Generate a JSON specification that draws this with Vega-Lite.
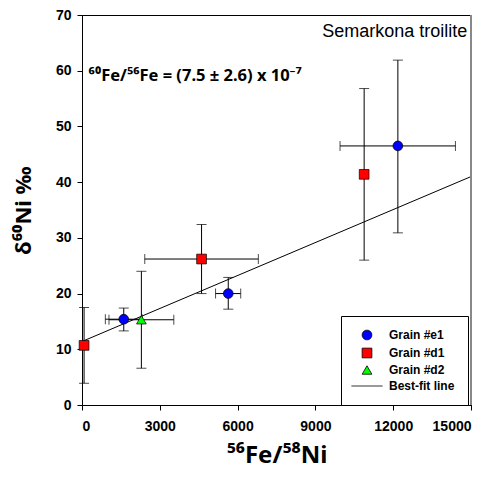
{
  "$schema": "https://vega.github.io/schema/vega-lite/v6.json",
  "width": 389,
  "height": 390,
  "autosize": {"type": "none"},
  "padding": {"left": 82, "top": 15, "right": 21, "bottom": 73},
  "background": "white",
  "config": {
    "font": "Liberation Sans",
    "view": {"stroke": "black", "strokeWidth": 1},
    "axis": {
      "grid": false,
      "domainColor": "black",
      "tickColor": "black",
      "tickSize": 5,
      "labelFont": "Liberation Sans",
      "labelFontWeight": "bold",
      "labelFontSize": 14,
      "labelColor": "black",
      "titleFont": "Noto Sans",
      "titleFontWeight": "bold",
      "titleColor": "black"
    }
  },
  "datasets": {
    "grains": [
      {"grain": "Grain #d1", "x": 80, "y": 10.7, "xlo": 80, "xhi": 80, "ylo": 3.9, "yhi": 17.5},
      {"grain": "Grain #e1", "x": 1610, "y": 15.4, "xlo": 900, "xhi": 2320, "ylo": 13.3, "yhi": 17.4},
      {"grain": "Grain #d2", "x": 2290, "y": 15.3, "xlo": 1040, "xhi": 3540, "ylo": 6.6, "yhi": 24.0},
      {"grain": "Grain #d1", "x": 4610, "y": 26.2, "xlo": 2420, "xhi": 6800, "ylo": 20.0, "yhi": 32.4},
      {"grain": "Grain #e1", "x": 5640, "y": 20.0, "xlo": 5150, "xhi": 6120, "ylo": 17.2, "yhi": 22.9},
      {"grain": "Grain #d1", "x": 10880, "y": 41.4, "xlo": 10880, "xhi": 10880, "ylo": 26.0, "yhi": 56.8},
      {"grain": "Grain #e1", "x": 12180, "y": 46.5, "xlo": 9950, "xhi": 14400, "ylo": 30.9, "yhi": 61.9}
    ],
    "fit": [
      {"x": 0, "y": 11.4},
      {"x": 15000, "y": 41.0}
    ]
  },
  "layer": [
    {
      "data": {"name": "fit"},
      "mark": {"type": "line", "color": "black", "strokeWidth": 1},
      "encoding": {
        "x": {"field": "x", "type": "quantitative", "title": "⁵⁶Fe/⁵⁸Ni", "scale": {"domain": [0, 15000], "nice": false}, "axis": {"values": [0, 3000, 6000, 9000, 12000, 15000], "format": "d", "labelPadding": 9, "titleFontSize": 24, "titlePadding": 10}},
        "y": {"field": "y", "type": "quantitative", "title": "δ⁶⁰Ni ‰", "scale": {"domain": [0, 70], "nice": false}, "axis": {"values": [0, 10, 20, 30, 40, 50, 60, 70], "format": "d", "labelPadding": 6, "titleFontSize": 22, "titlePadding": 20}}
      }
    },
    {
      "data": {"name": "grains"},
      "mark": {"type": "errorbar", "ticks": {"size": 10, "color": "black"}, "rule": {"color": "black", "strokeWidth": 1}},
      "encoding": {
        "x": {"field": "x", "type": "quantitative", "title": "⁵⁶Fe/⁵⁸Ni"},
        "y": {"field": "ylo", "type": "quantitative", "title": "δ⁶⁰Ni ‰"},
        "y2": {"field": "yhi"}
      }
    },
    {
      "data": {"name": "grains"},
      "transform": [{"filter": "datum.xhi > datum.xlo"}],
      "mark": {"type": "errorbar", "ticks": {"size": 10, "color": "black"}, "rule": {"color": "black", "strokeWidth": 1}},
      "encoding": {
        "y": {"field": "y", "type": "quantitative", "title": "δ⁶⁰Ni ‰"},
        "x": {"field": "xlo", "type": "quantitative", "title": "⁵⁶Fe/⁵⁸Ni"},
        "x2": {"field": "xhi"}
      }
    },
    {
      "data": {"name": "grains"},
      "mark": {"type": "point", "filled": true, "opacity": 1, "stroke": "black", "strokeWidth": 0.7, "size": 95},
      "encoding": {
        "x": {"field": "x", "type": "quantitative", "title": "⁵⁶Fe/⁵⁸Ni"},
        "y": {"field": "y", "type": "quantitative", "title": "δ⁶⁰Ni ‰"},
        "color": {
          "field": "grain", "type": "nominal",
          "scale": {"domain": ["Grain #e1", "Grain #d1", "Grain #d2", "Best-fit line"], "range": ["#0000ff", "#ff0000", "#00ff00", "#000000"]},
          "legend": {
            "title": null,
            "orient": "none",
            "legendX": 259,
            "legendY": 301,
            "direction": "vertical",
            "fillColor": "white",
            "strokeColor": "black",
            "padding": 13,
            "rowPadding": 4,
            "labelFont": "Liberation Sans",
            "labelFontWeight": "bold",
            "labelFontSize": 12,
            "labelColor": "black",
            "labelOffset": 16,
            "symbolOffset": 7,
            "symbolSize": 95,
            "symbolStrokeColor": "black",
            "symbolStrokeWidth": 0.8
          }
        },
        "shape": {
          "field": "grain", "type": "nominal",
          "scale": {"domain": ["Grain #e1", "Grain #d1", "Grain #d2", "Best-fit line"], "range": ["circle", "square", "triangle-up", "M-3.2,0H3.2"]}
        }
      }
    },
    {
      "data": {"values": [{"x": 15000}]},
      "mark": {"type": "rule", "color": "#888888", "strokeWidth": 2},
      "encoding": {"x": {"field": "x", "type": "quantitative"}}
    },
    {
      "data": {"values": [{"x": 255, "y": 58.2, "label": "⁶⁰Fe/⁵⁶Fe = (7.5 ± 2.6) x 10⁻⁷"}]},
      "mark": {"type": "text", "align": "left", "baseline": "alphabetic", "font": "Noto Sans", "fontWeight": "bold", "fontSize": 16.5, "color": "black"},
      "encoding": {
        "x": {"field": "x", "type": "quantitative"},
        "y": {"field": "y", "type": "quantitative"},
        "text": {"field": "label"}
      }
    },
    {
      "data": {"values": [{"x": 14855, "y": 66.1, "label": "Semarkona troilite"}]},
      "mark": {"type": "text", "align": "right", "baseline": "alphabetic", "font": "Liberation Sans", "fontSize": 18, "color": "black"},
      "encoding": {
        "x": {"field": "x", "type": "quantitative"},
        "y": {"field": "y", "type": "quantitative"},
        "text": {"field": "label"}
      }
    }
  ]
}
